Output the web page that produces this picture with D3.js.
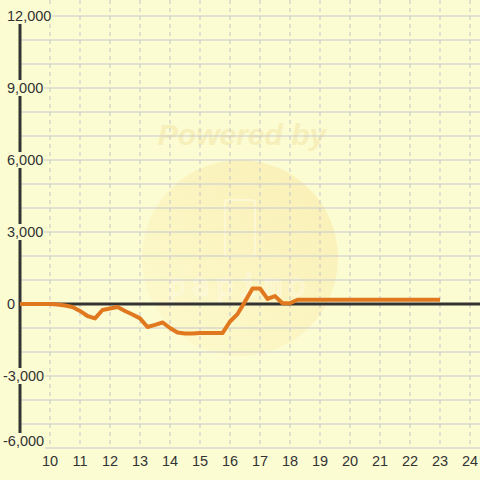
<!DOCTYPE html>
<html>
<head>
<meta charset="utf-8">
<script src="https://cdn.jsdelivr.net/npm/d3@7"></script>
<style>
  html, body { margin: 0; padding: 0; background: #fcfcd3; }
  svg { display: block; font-family: "Liberation Sans", Arial, sans-serif; }
</style>
</head>
<body>
<div id="chart"></div>
<script>
// hours of the day (quarter-hour steps) and the running balance
const hours = [9, 9.25, 9.5, 9.75, 10, 10.25, 10.5, 10.75, 11, 11.25, 11.5, 11.75,
  12, 12.25, 12.5, 12.75, 13, 13.25, 13.5, 13.75, 14, 14.25, 14.5, 14.75,
  15, 15.25, 15.5, 15.75, 16, 16.25, 16.5, 16.75, 17, 17.25, 17.5, 17.75,
  18, 18.25, 18.5, 19, 19.5, 20, 20.5, 21, 21.5, 22, 22.5, 23];
const balance = [0, 0, 0, 0, 0, -20, -60, -125, -290, -500, -600, -250,
  -190, -125, -290, -440, -600, -960, -870, -770, -1000, -1190, -1230, -1230,
  -1210, -1210, -1210, -1210, -730, -420, 100, 650, 650, 210, 330, 30,
  30, 180, 180, 180, 180, 180, 180, 180, 180, 180, 180, 180];

const xTicks = [10, 11, 12, 13, 14, 15, 16, 17, 18, 19, 20, 21, 22, 23, 24];
const yTicks = [-6000, -3000, 0, 3000, 6000, 9000, 12000];
const yGrid = [-6000, -5000, -4000, -3000, -2000, -1000, 0, 1000, 2000, 3000,
  4000, 5000, 6000, 7000, 8000, 9000, 10000, 11000, 12000];

const width = 480, height = 480;
const bg = '#fcfcd3';

const x = d3.scaleLinear().domain([9, 24.333]).range([20, 480]);
const y = d3.scaleLinear().domain([-6000, 12000]).range([448, 16]);

const svg = d3.select('#chart').append('svg')
  .attr('width', width)
  .attr('height', height);

svg.append('rect').attr('width', width).attr('height', height).attr('fill', bg);

// faint watermark
const defs = svg.append('defs');
const grad = defs.append('linearGradient').attr('id', 'wm')
  .attr('x1', '0%').attr('y1', '100%').attr('x2', '100%').attr('y2', '0%');
grad.append('stop').attr('offset', '0%').attr('stop-color', '#fdf8c8');
grad.append('stop').attr('offset', '100%').attr('stop-color', '#f8e59e');

const wm = svg.append('g').attr('class', 'watermark');
wm.append('circle').attr('cx', 240).attr('cy', 258).attr('r', 98)
  .attr('fill', 'url(#wm)').attr('opacity', 0.55);
wm.append('text').attr('x', 242).attr('y', 145)
  .attr('text-anchor', 'middle')
  .attr('font-size', 30).attr('font-weight', 'bold').attr('font-style', 'italic')
  .attr('fill', '#f3e6a6').attr('opacity', 0.55)
  .text('Powered by');
wm.append('rect').attr('x', 225).attr('y', 200).attr('width', 30).attr('height', 56)
  .attr('rx', 3).attr('fill', 'none').attr('stroke', '#fffbe6').attr('stroke-width', 1.5)
  .attr('opacity', 0.7);
wm.append('text').attr('x', 240).attr('y', 296)
  .attr('text-anchor', 'middle')
  .attr('font-size', 30).attr('letter-spacing', 6)
  .attr('font-family', '"DejaVu Sans Mono", monospace')
  .attr('fill', 'none').attr('stroke', '#fffbe6').attr('stroke-width', 1.2)
  .attr('opacity', 0.7)
  .text('papimo');

// grid
svg.append('g').selectAll('line.h')
  .data(yGrid)
  .join('line')
  .attr('x1', x(9)).attr('x2', width)
  .attr('y1', d => y(d)).attr('y2', d => y(d))
  .attr('stroke', '#c8c8ce').attr('stroke-width', 1.2);

svg.append('g').selectAll('line.v')
  .data(xTicks)
  .join('line')
  .attr('x1', d => x(d)).attr('x2', d => x(d))
  .attr('y1', 0).attr('y2', y(-6000))
  .attr('stroke', '#c4c4ca').attr('stroke-width', 1)
  .attr('stroke-dasharray', '4,4');

// axes
svg.append('line')
  .attr('x1', x(9)).attr('x2', x(9))
  .attr('y1', y(12000)).attr('y2', y(-6000))
  .attr('stroke', '#333').attr('stroke-width', 3);

svg.append('line')
  .attr('x1', x(9)).attr('x2', width)
  .attr('y1', y(0)).attr('y2', y(0))
  .attr('stroke', '#333').attr('stroke-width', 3);

// y labels with background boxes (lowest one is nudged up to stay clear of the x labels)
const fmt = v => d3.format(',')(v).replace('\u2212', '-');
const yl = svg.append('g').selectAll('g')
  .data(yTicks)
  .join('g');
yl.append('rect');
yl.append('text')
  .attr('x', d => d < 0 ? 3 : 7)
  .attr('y', d => Math.min(y(d), 441) + 5)
  .attr('font-size', 14.5)
  .attr('fill', '#333')
  .text(d => fmt(d));
yl.each(function() {
  const g = d3.select(this);
  const b = g.select('text').node().getBBox();
  g.select('rect')
    .attr('x', b.x - 1).attr('y', b.y)
    .attr('width', b.width + 2).attr('height', b.height)
    .attr('fill', bg);
});

// x labels
svg.append('g').selectAll('text')
  .data(xTicks)
  .join('text')
  .attr('x', d => x(d))
  .attr('y', 466)
  .attr('text-anchor', 'middle')
  .attr('font-size', 14.5)
  .attr('fill', '#333')
  .text(d => d);

// balance line
const line = d3.line()
  .x((d, i) => x(hours[i]))
  .y(d => y(d));

svg.append('path')
  .datum(balance)
  .attr('d', line)
  .attr('fill', 'none')
  .attr('stroke', '#e0781f')
  .attr('stroke-width', 4)
  .attr('stroke-linejoin', 'round');
</script>
</body>
</html>
